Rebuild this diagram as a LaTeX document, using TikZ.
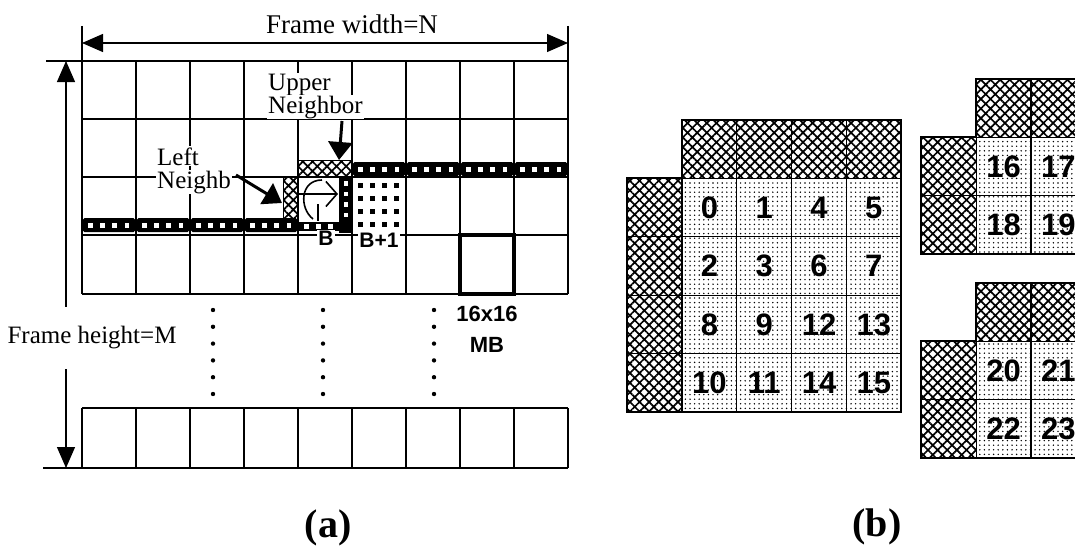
\documentclass[tikz,border=0pt]{standalone}
\usepackage{fontspec}
\setmainfont{Liberation Serif}
\newfontfamily\arialfont{Liberation Sans}
\usetikzlibrary{arrows.meta,patterns.meta}

\begin{document}
\begin{tikzpicture}[x=1pt, y=-1pt,
  gline/.style={line width=1.2pt},
  xhatch/.style={draw, line width=1pt, pattern={Hatch[angle=45,distance=6.8pt,line width=1.7pt]}},
  hcell/.style={xhatch, line width=1.2pt, minimum width=54.8pt, minimum height=58.4pt, inner sep=0pt},
  dcell/.style={draw, line width=1.2pt, minimum width=54.8pt, minimum height=58.4pt, inner sep=0pt,
    pattern={Dots[distance=4.6pt,radius=0.8pt]}, font=\arialfont\bfseries\fontsize{31}{31}\selectfont},
  txt/.style={inner sep=1pt, font=\fontsize{25}{25}\selectfont},
  mbfont/.style={inner sep=1pt, font=\arialfont\bfseries\fontsize{21}{21}\selectfont},
  capt/.style={inner sep=0pt, font=\bfseries\fontsize{40}{40}\selectfont},
  dimarrow/.style={line width=1.2pt, {Triangle[length=21pt,width=18pt]}-{Triangle[length=21pt,width=18pt]}},
  bigarrow/.style={line width=3pt, -{Triangle[length=18pt,width=24pt]}}]
\useasboundingbox (0,0) rectangle (1075,551);

% (a) frame of 16x16 macroblocks
\foreach \i in {0,...,9} {
  \draw[gline] (82+54*\i,61) -- (82+54*\i,294);
  \draw[gline] (82+54*\i,408) -- (82+54*\i,468);
}
\foreach \y in {61,119,177,235,294,408,468}
  \draw[gline] (82,\y) -- (568,\y);
\draw[gline] (82,26) -- (82,61);
\draw[gline] (568,26) -- (568,61);
\draw[gline] (46,61) -- (82,61);
\draw[gline] (43,468) -- (82,468);

\coordinate (wl) at (82,43);
\coordinate (wr) at (568,43);
\draw[dimarrow] (wl) -- (wr);
\node[txt, font=\fontsize{27}{27}\selectfont] (fw) at (352,24) {Frame width=N};
\coordinate (ht) at (66,61);
\coordinate (hb) at (66,468);
\draw[dimarrow] (ht) -- (hb);
\node[txt, fill=white, minimum height=62pt] (fh) at (92,338) {Frame height=M};

% stored rows of neighbour pixels
\foreach \x in {352,406,460,514} {
  \fill[rounded corners=1.5pt] (\x+1,162) rectangle (\x+53,176);
  \foreach \s in {0,...,3} \fill[white] (\x+6+12.2*\s,167) rectangle ++(4.5,4.5);
}
\foreach \x in {82,136,190,244} {
  \fill[rounded corners=1.5pt] (\x+1,218) rectangle (\x+53,232);
  \foreach \s in {0,...,3} \fill[white] (\x+6+12.2*\s,223) rectangle ++(4.5,4.5);
}

% current block B and its neighbours
\draw[xhatch] (298,160) rectangle (352,177);
\draw[xhatch] (283,177) rectangle (298,220);
\fill (339,177) rectangle (352,233);
\fill (296,222) rectangle (352,231);
\foreach \s in {0,...,3} \fill[white] (343.5,181+10.5*\s) rectangle ++(4.5,4.5);
\foreach \s in {0,...,2} \fill[white] (304+12*\s,224) rectangle ++(4.5,4.5);
\draw[line width=1.6pt] (313,219) .. controls (299,208) and (300,180) .. (322,180);
\draw[line width=1.6pt, -{Straight Barb[length=11pt,width=25pt]}] (298,194) -- (338,194);
\draw[line width=1.6pt] (318,204) -- (318,221);

% block B+1
\foreach \i in {0,...,3}
  \foreach \j in {0,...,3}
    \fill (357.5+12.3*\i,182.5+13.3*\j) rectangle ++(5,5);

\draw[line width=3.5pt] (460,235) rectangle (514,294);
\foreach \x in {213,323,434}
  \foreach \k in {0,...,5}
    \fill (\x,310+16.8*\k) circle (2.2);

\node[txt, fill=white, anchor=base west] (un1) at (267,90) {Upper};
\node[txt, fill=white, anchor=base west] (un2) at (267,113) {Neighbor};
\node[txt, fill=white, anchor=base west] (ln1) at (156,165) {Left};
\node[txt, fill=white, anchor=base west] (ln2) at (156,188) {Neighb};
\coordinate (ua) at (342,121);
\coordinate (ub) at (339,160);
\draw[bigarrow] (ua) -- (ub);
\coordinate (la) at (236,175);
\coordinate (lb) at (282,203);
\draw[bigarrow] (la) -- (lb);

\node[mbfont, fill=white] (bl) at (326,238) {B};
\node[mbfont, fill=white] (bl1) at (379,240) {B+1};
\node[mbfont, font=\arialfont\bfseries\fontsize{22}{22}\selectfont] (mb1) at (487,314) {16x16};
\node[mbfont, font=\arialfont\bfseries\fontsize{22}{22}\selectfont] (mb2) at (487,345) {MB};

% (b) 4x4 luma blocks and chroma blocks
\foreach \c in {0,...,3}
  \node[hcell] (t\c) at (709.4+54.8*\c,149.2) {};
\foreach \r in {0,...,3}
  \node[hcell] (l\r) at (654.6,207.6+58.4*\r) {};
\foreach \lab [count=\k from 0] in {0,1,4,5,2,3,6,7,8,9,12,13,10,11,14,15} {
  \pgfmathtruncatemacro\c{mod(\k,4)}
  \pgfmathtruncatemacro\r{div(\k,4)}
  \node[dcell] (n\lab) at (709.4+54.8*\c,207.6+58.4*\r) {\lab};
}
\draw[line width=2pt] (682,120) -- (901,120) -- (901,412) -- (627,412) -- (627,178.4) -- (682,178.4) -- cycle;

\foreach \yy/\la/\lb/\lc/\ld in {79/16/17/18/19, 283/20/21/22/23} {
  \node[hcell] (tu\la) at (1003.5,\yy+29.2) {};
  \node[hcell] (tv\la) at (1058.3,\yy+29.2) {};
  \node[hcell] (lu\la) at (948.7,\yy+87.6) {};
  \node[hcell] (lv\la) at (948.7,\yy+146) {};
  \node[dcell] (n\la) at (1003.5,\yy+87.6) {\la};
  \node[dcell] (n\lb) at (1058.3,\yy+87.6) {\lb};
  \node[dcell] (n\lc) at (1003.5,\yy+146) {\lc};
  \node[dcell] (n\ld) at (1058.3,\yy+146) {\ld};
  \draw[line width=2pt] (976.1,\yy) -- (1085.7,\yy) -- (1085.7,\yy+175.2) -- (921.3,\yy+175.2) -- (921.3,\yy+58.4) -- (976.1,\yy+58.4) -- cycle;
}

\node[capt] (ca) at (328,528) {(a)};
\node[capt] (cb) at (877,527) {(b)};
\end{tikzpicture}
\end{document}
